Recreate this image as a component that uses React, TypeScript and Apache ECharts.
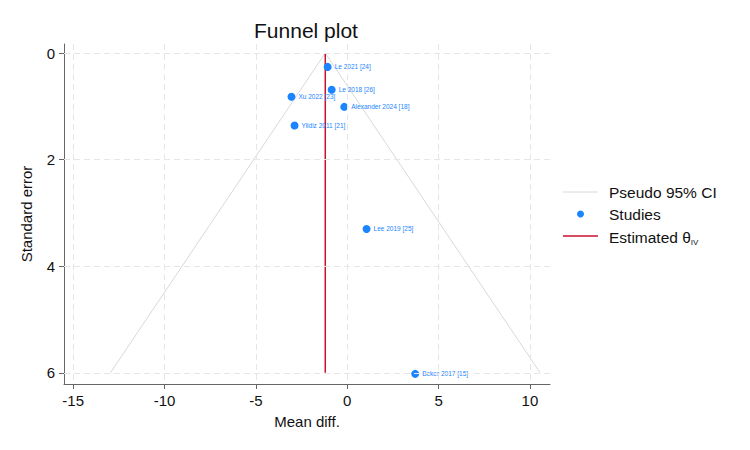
import React, { useEffect, useRef } from "react";
import * as echarts from "echarts";

const studyNames = [
  "Le 2021 [24]",
  "Le 2018 [26]",
  "Xu 2022 [23]",
  "Alexander 2024 [18]",
  "Yildiz 2011 [21]",
  "Lee 2019 [25]",
  "Beker 2017 [15]",
];
const studyMeanDiff = [-1.07, -0.85, -3.05, -0.16, -2.88, 1.06, 3.72];
const studySE = [0.26, 0.69, 0.82, 1.01, 1.36, 3.3, 6.02];

const theta = -1.2;
const thetaLine = [
  [theta, 0],
  [theta, 6],
];
const ciLeft = [
  [-1.2, 0],
  [-12.96, 6],
];
const ciRight = [
  [-1.2, 0],
  [10.56, 6],
];

const xTicks = [-15, -10, -5, 0, 5, 10];
const yTicks = [0, 2, 4, 6];

const FONT = "'Liberation Sans', Arial, Helvetica, sans-serif";
const BLUE = "#1a85ff";
const RED = "#c9102f";
const CI_GRAY = "#d8d8d8";
const AXIS_GRAY = "#666666";

export default function App() {
  const ref = useRef<HTMLDivElement>(null);

  useEffect(() => {
    if (!ref.current) return;
    const chart = echarts.init(ref.current, null, { renderer: "svg" });

    const option: any = {
      animation: false,
      backgroundColor: "#ffffff",
      textStyle: { fontFamily: FONT },
      grid: { left: 64, right: 200, top: 44, bottom: 66 },
      xAxis: {
        type: "value",
        min: -15.5,
        max: 11.1,
        name: "Mean diff.",
        nameLocation: "middle",
        nameGap: 30,
        nameTextStyle: { fontSize: 15, color: "#111", fontFamily: FONT },
        axisLine: { show: true, onZero: false, lineStyle: { color: AXIS_GRAY, width: 1 } },
        axisTick: { show: true, length: 5, customValues: xTicks, lineStyle: { color: AXIS_GRAY } },
        axisLabel: {
          customValues: xTicks,
          margin: 9,
          fontSize: 15,
          color: "#111",
          fontFamily: FONT,
        },
        splitLine: { show: false },
      },
      yAxis: {
        type: "value",
        inverse: true,
        min: -0.17,
        max: 6.21,
        name: "Standard error",
        nameLocation: "middle",
        nameGap: 30,
        nameRotate: 90,
        nameTextStyle: { fontSize: 15, color: "#111", fontFamily: FONT },
        axisLine: { show: true, onZero: false, lineStyle: { color: AXIS_GRAY, width: 1 } },
        axisTick: { show: true, length: 5, customValues: yTicks, lineStyle: { color: AXIS_GRAY } },
        axisLabel: {
          customValues: yTicks,
          margin: 9,
          fontSize: 15,
          color: "#111",
          fontFamily: FONT,
        },
        splitLine: { show: false },
      },
      series: [
        {
          name: "grid",
          type: "line",
          data: [],
          silent: true,
          z: 0,
          markLine: {
            silent: true,
            symbol: ["none", "none"],
            label: { show: false },
            lineStyle: { color: "#e6e6e6", type: [6, 4], width: 1 },
            data: [
              ...xTicks.map((v) => ({ xAxis: v })),
              ...yTicks.map((v) => ({ yAxis: v })),
            ],
          },
        },
        {
          name: "Pseudo 95% CI",
          type: "line",
          data: ciLeft,
          symbol: "none",
          silent: true,
          z: 1,
          lineStyle: { color: CI_GRAY, width: 1 },
        },
        {
          name: "Pseudo 95% CI",
          type: "line",
          data: ciRight,
          symbol: "none",
          silent: true,
          z: 1,
          lineStyle: { color: CI_GRAY, width: 1 },
        },
        {
          name: "Estimated θIV",
          type: "line",
          data: thetaLine,
          symbol: "none",
          silent: true,
          z: 2,
          lineStyle: { color: RED, width: 1.5 },
        },
        {
          name: "Studies",
          type: "scatter",
          z: 3,
          symbol: "circle",
          symbolSize: 8,
          itemStyle: { color: BLUE, opacity: 1 },
          label: {
            show: true,
            position: "right",
            distance: 3,
            fontSize: 6.5,
            color: BLUE,
            fontFamily: FONT,
            formatter: (p: any) => p.name,
          },
          data: studyNames.map((n, i) => ({ name: n, value: [studyMeanDiff[i], studySE[i]] })),
        },
      ],
      graphic: [
        {
          type: "text",
          x: 306,
          y: 30,
          style: {
            text: "Funnel plot",
            fontSize: 21,
            fontFamily: FONT,
            fill: "#111",
            textAlign: "center",
            textVerticalAlign: "middle",
          },
        },
        {
          type: "line",
          shape: { x1: 563, y1: 192, x2: 598, y2: 192 },
          style: { stroke: CI_GRAY, lineWidth: 1 },
        },
        {
          type: "text",
          x: 609,
          y: 192,
          style: {
            text: "Pseudo 95% CI",
            fontSize: 15.5,
            fontFamily: FONT,
            fill: "#111",
            textVerticalAlign: "middle",
          },
        },
        {
          type: "circle",
          shape: { cx: 580.5, cy: 214, r: 3.5 },
          style: { fill: BLUE },
        },
        {
          type: "text",
          x: 609,
          y: 214,
          style: {
            text: "Studies",
            fontSize: 15.5,
            fontFamily: FONT,
            fill: "#111",
            textVerticalAlign: "middle",
          },
        },
        {
          type: "line",
          shape: { x1: 563, y1: 236, x2: 598, y2: 236 },
          style: { stroke: RED, lineWidth: 1.5 },
        },
        {
          type: "text",
          x: 609,
          y: 237,
          style: {
            text: "{a|Estimated θ}{s|IV}",
            fontFamily: FONT,
            fill: "#111",
            textVerticalAlign: "middle",
            rich: {
              a: { fontSize: 15.5, fontFamily: FONT, fill: "#111" },
              s: { fontSize: 8, fontFamily: FONT, fill: "#111", padding: [10, 0, 0, 0] },
            },
          },
        },
      ],
    };

    chart.setOption(option);
    return () => chart.dispose();
  }, []);

  return (
    <div
      ref={ref}
      style={{ position: "fixed", left: 0, top: 0, width: 750, height: 450, background: "#fff" }}
    />
  );
}
